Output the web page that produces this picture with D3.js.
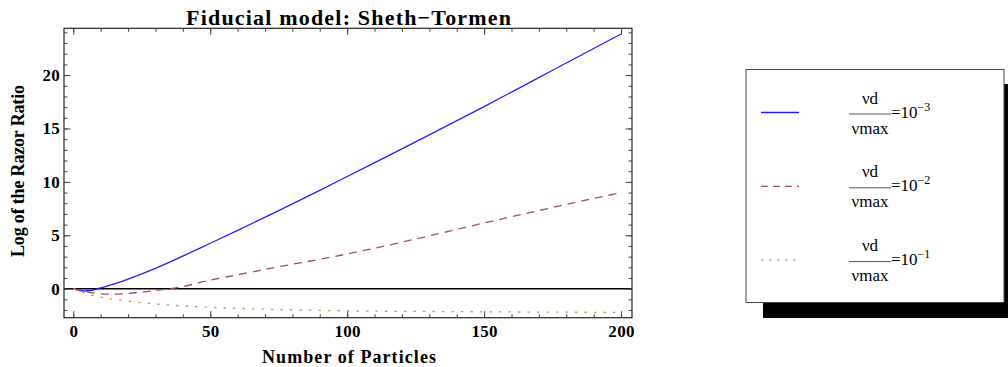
<!DOCTYPE html>
<html>
<head>
<meta charset="utf-8">
<script src="https://cdn.jsdelivr.net/npm/d3@7"></script>
<style>
  body { margin: 0; background: #fff; }
  svg { display: block; }
  text { font-family: "Liberation Serif", "Times New Roman", serif; }
</style>
</head>
<body>
<div id="chart"></div>
<script>

// number of particles (shared x grid)
var particles = [0, 2, 4, 7, 10, 15, 20, 30, 40, 50, 60, 75, 90, 100, 125, 150, 175, 200];

// log of the razor ratio, one array per nu_d / nu_max value
var ratio1e3 = [0, -0.15, -0.22, -0.15, 0.08, 0.45, 0.9, 1.9, 3.05, 4.25, 5.45, 7.3, 9.2, 10.5, 13.75, 17.05, 20.45, 23.85];
var ratio1e2 = [0, -0.15, -0.28, -0.4, -0.48, -0.52, -0.45, -0.18, 0.2, 0.8, 1.3, 2.05, 2.75, 3.25, 4.65, 6.15, 7.6, 9.0];
var ratio1e1 = [0, -0.2, -0.38, -0.62, -0.8, -1.0, -1.17, -1.43, -1.62, -1.75, -1.85, -1.95, -2.03, -2.08, -2.13, -2.17, -2.2, -2.22];

var exponents = ["\u22123", "\u22122", "\u22121"];

var xMajor = [0, 50, 100, 150, 200];
var xMinor = d3.range(0, 201, 10);
var yMajor = [0, 5, 10, 15, 20];
var yMinor = d3.range(-2, 25, 1);

var W = 1008, H = 367;
var margin = {top: 28.3, right: 376, bottom: 49.3, left: 64};
var width = W - margin.left - margin.right,
    height = H - margin.top - margin.bottom;

var svg = d3.select("#chart")
  .append("svg")
    .attr("width", W)
    .attr("height", H);

var x = d3.scaleLinear()
  .domain([-3.4, 204])
  .range([margin.left, margin.left + width]);

var y = d3.scaleLinear()
  .domain([-2.72, 24.38])
  .range([margin.top + height, margin.top]);

var series = [
  {values: ratio1e3, color: "#2020ff", dash: null, legendDash: null},
  {values: ratio1e2, color: "#a6487c", dash: "8,6", legendDash: "7,5"},
  {values: ratio1e1, color: "#b8a05a", dash: "2.5,7", legendDash: "2.5,5.5"}
];

// zero line
svg.append("line")
  .attr("x1", x.range()[0]).attr("x2", x.range()[1])
  .attr("y1", y(0)).attr("y2", y(0))
  .attr("stroke", "#000")
  .attr("stroke-width", 1.5);

var line = d3.line()
  .x(function(d) { return x(d[0]); })
  .y(function(d) { return y(d[1]); })
  .curve(d3.curveMonotoneX);

series.forEach(function(s) {
  var pts = particles.map(function(p, i) { return [p, s.values[i]]; });
  svg.append("path")
    .datum(pts)
    .attr("fill", "none")
    .attr("stroke", s.color)
    .attr("stroke-width", 1.3)
    .attr("stroke-dasharray", s.dash)
    .attr("d", line);
});

// frame
svg.append("rect")
  .attr("x", margin.left).attr("y", margin.top)
  .attr("width", width).attr("height", height)
  .attr("fill", "none")
  .attr("stroke", "#222")
  .attr("stroke-width", 1.2);

// ticks, inward on all four sides
function styleAxis(g) {
  g.select(".domain").remove();
  g.selectAll(".tick line").attr("stroke", "#444").attr("stroke-width", 1);
}

function addAxis(axisFn, scale, vals, size, pos, labels) {
  var a = axisFn(scale).tickValues(vals).tickSize(-size).tickSizeOuter(0);
  if (!labels) a.tickFormat("");
  var g = svg.append("g").attr("transform", pos).call(a);
  styleAxis(g);
  return g;
}

var bottomPos = "translate(0," + (margin.top + height) + ")";
var topPos = "translate(0," + margin.top + ")";
var leftPos = "translate(" + margin.left + ",0)";
var rightPos = "translate(" + (margin.left + width) + ",0)";

addAxis(d3.axisBottom, x, xMinor, 3.5, bottomPos, false);
addAxis(d3.axisTop, x, xMinor, 3.5, topPos, false);
addAxis(d3.axisLeft, y, yMinor, 3.5, leftPos, false);
addAxis(d3.axisRight, y, yMinor, 3.5, rightPos, false);
addAxis(d3.axisTop, x, xMajor, 6.5, topPos, false);
addAxis(d3.axisRight, y, yMajor, 6.5, rightPos, false);

var xAxis = addAxis(d3.axisBottom, x, xMajor, 6.5, bottomPos, true);
xAxis.selectAll(".tick text")
  .attr("y", 7)
  .style("font-family", "Liberation Serif, serif")
  .style("font-size", "17px")
  .style("font-weight", "bold")
  .style("letter-spacing", "0.3px")
  .attr("fill", "#000");

var yAxis = addAxis(d3.axisLeft, y, yMajor, 6.5, leftPos, true);
yAxis.selectAll(".tick text")
  .attr("x", -4)
  .style("font-family", "Liberation Serif, serif")
  .style("font-size", "17px")
  .style("font-weight", "bold")
  .style("letter-spacing", "0.3px")
  .attr("fill", "#000");

// title and axis labels
svg.append("text")
  .attr("x", 348.5).attr("y", 25)
  .attr("text-anchor", "middle")
  .attr("textLength", 325)
  .attr("lengthAdjust", "spacing")
  .style("font-size", "22px")
  .style("font-weight", "bold")
  .text("Fiducial model: Sheth\u2212Tormen");

svg.append("text")
  .attr("x", 349).attr("y", 363)
  .attr("text-anchor", "middle")
  .attr("textLength", 174)
  .attr("lengthAdjust", "spacing")
  .style("font-size", "18px")
  .style("font-weight", "bold")
  .text("Number of Particles");

svg.append("text")
  .attr("transform", "translate(24,171) rotate(-90)")
  .attr("text-anchor", "middle")
  .attr("textLength", 172)
  .attr("lengthAdjust", "spacing")
  .style("font-size", "18px")
  .style("font-weight", "bold")
  .text("Log of the Razor Ratio");

// legend with drop shadow
var lg = svg.append("g");
lg.append("rect")
  .attr("x", 763).attr("y", 84).attr("width", 260).attr("height", 234)
  .attr("fill", "#000");
lg.append("rect")
  .attr("x", 746).attr("y", 69.5).attr("width", 258).attr("height", 233)
  .attr("fill", "#fff")
  .attr("stroke", "#444")
  .attr("stroke-width", 1);

series.forEach(function(s, i) {
  var cy = 112.5 + i * 73.8;
  lg.append("line")
    .attr("x1", 761).attr("x2", 799)
    .attr("y1", cy).attr("y2", cy)
    .attr("stroke", s.color)
    .attr("stroke-width", 1.3)
    .attr("stroke-dasharray", s.legendDash);
  lg.append("text")
    .attr("x", 870).attr("y", cy - 9)
    .attr("text-anchor", "middle")
    .style("font-size", "17px")
    .text("\u03BDd");
  lg.append("line")
    .attr("x1", 849).attr("x2", 891)
    .attr("y1", cy + 1.5).attr("y2", cy + 1.5)
    .attr("stroke", "#555")
    .attr("stroke-width", 1);
  lg.append("text")
    .attr("x", 870).attr("y", cy + 21)
    .attr("text-anchor", "middle")
    .style("font-size", "17px")
    .text("\u03BDmax");
  var t = lg.append("text")
    .attr("x", 891).attr("y", cy + 5)
    .style("font-size", "17px");
  t.append("tspan").text("=10");
  t.append("tspan")
    .attr("dy", -7)
    .style("font-size", "12px")
    .text(exponents[i]);
});

</script>
</body>
</html>
